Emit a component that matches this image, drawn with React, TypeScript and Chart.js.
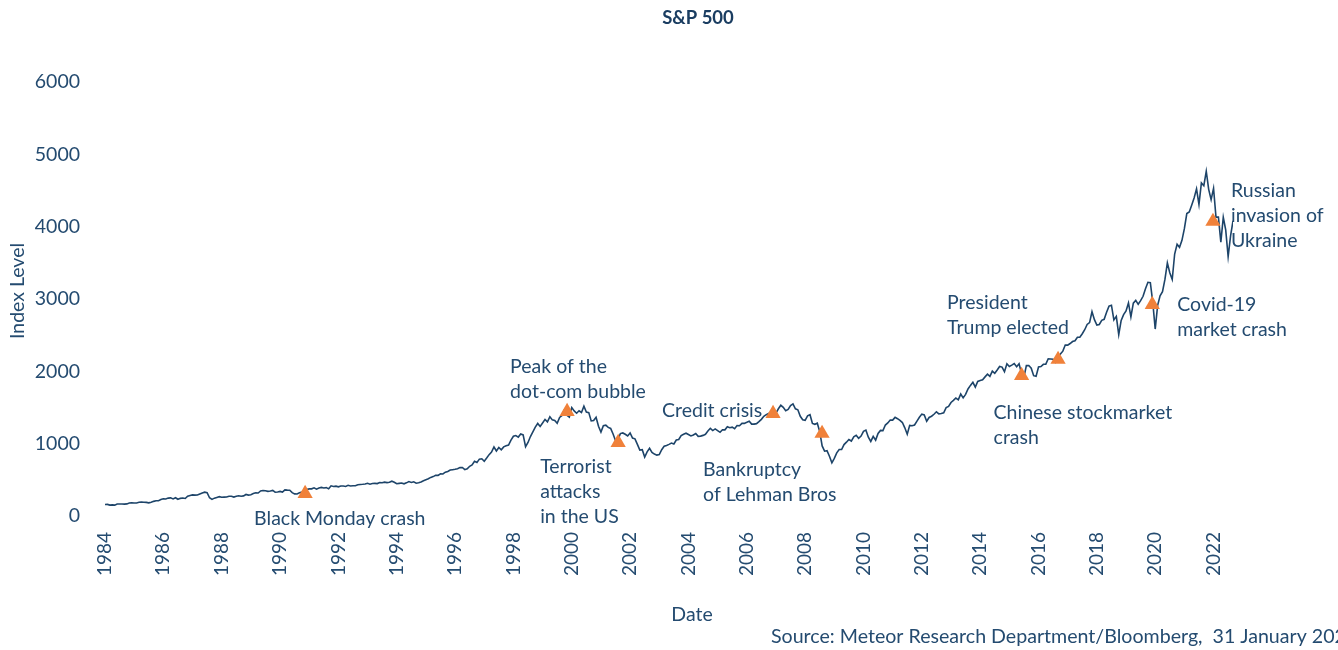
import React, { useEffect, useRef } from "react";
import { Chart, registerables } from "chart.js";

Chart.register(...registerables);

// ---------- DATA ----------
const CHART_TITLE = "S&P 500";
const Y_AXIS_TITLE = "Index Level";
const X_AXIS_TITLE = "Date";
const SOURCE_TEXT = "Source: Meteor Research Department/Bloomberg,  31 January 2023";

// first plotted point sits at the 1984 tick, one point per month
const FIRST_X = 1984;
const POINTS_PER_YEAR = 12;

const X_TICKS = [1984, 1986, 1988, 1990, 1992, 1994, 1996, 1998, 2000, 2002, 2004, 2006, 2008, 2010, 2012, 2014, 2016, 2018, 2020, 2022];
const Y_TICKS = [0, 1000, 2000, 3000, 4000, 5000, 6000];

// monthly closes (Mar 1984 .. Nov 2022)
const SP500 = [
  159.2, 160.1, 150.6, 153.2, 150.7, 166.7, 166.1, 166.1, 163.6, 167.2,
  179.6, 181.2, 180.7, 179.8, 189.6, 191.9, 190.9, 188.6, 182.1, 189.8, 202.2, 211.3,
  211.8, 226.9, 238.9, 235.5, 247.4, 250.8, 236.1, 252.9, 231.3, 244.0, 249.2, 242.2,
  274.1, 284.2, 291.7, 288.4, 290.1, 304.0, 318.7, 329.8, 321.8, 251.8, 230.3, 247.1,
  257.1, 267.8, 258.9, 261.3, 262.2, 273.5, 272.0, 261.5, 271.9, 279.0, 273.7, 277.7,
  297.5, 288.9, 294.9, 309.6, 320.5, 318.0, 346.1, 351.5, 349.2, 340.4, 346.0, 353.4,
  329.1, 331.9, 339.9, 330.8, 361.2, 358.0, 356.2, 322.6, 306.1, 304.0, 322.2, 330.2,
  343.9, 367.1, 375.2, 375.3, 389.8, 371.2, 387.8, 395.4, 387.9, 392.5, 375.2, 417.1,
  408.8, 412.7, 403.7, 415.0, 415.4, 408.1, 424.2, 414.0, 417.8, 418.7, 431.4, 435.7,
  438.8, 443.4, 451.7, 440.2, 450.2, 451.0, 448.1, 463.6, 458.9, 467.8, 461.8, 466.5,
  481.6, 467.1, 445.8, 450.9, 456.5, 444.3, 458.3, 475.5, 462.7, 472.4, 453.7, 459.3,
  470.4, 487.4, 500.7, 514.7, 533.4, 544.8, 562.1, 561.9, 584.4, 581.5, 605.4, 615.9,
  636.0, 640.4, 645.5, 654.2, 669.1, 670.6, 640.0, 652.0, 687.3, 705.3, 757.0, 740.7,
  786.2, 790.8, 757.1, 801.3, 848.3, 885.1, 954.3, 899.5, 947.3, 914.6, 955.4, 970.4,
  980.3, 1049.3, 1101.8, 1111.8, 1090.8, 1133.8, 1120.7, 957.3, 1017.0, 1098.7, 1163.6, 1229.2,
  1279.6, 1238.3, 1286.4, 1335.2, 1301.8, 1372.7, 1328.7, 1320.4, 1282.7, 1362.9, 1389.0, 1469.3,
  1394.5, 1366.4, 1498.6, 1452.4, 1420.6, 1454.6, 1430.8, 1517.7, 1436.5, 1429.4, 1315.2, 1320.3,
  1366.0, 1239.9, 1160.3, 1249.5, 1255.8, 1224.4, 1211.2, 1133.6, 1040.9, 1059.8, 1139.5, 1148.1,
  1130.2, 1106.7, 1147.4, 1076.9, 1067.1, 989.8, 911.6, 916.1, 815.3, 885.8, 936.3, 879.8,
  855.7, 841.2, 848.2, 916.9, 963.6, 974.5, 990.3, 1008.0, 996.0, 1050.7, 1058.2, 1111.9,
  1131.1, 1144.9, 1126.2, 1107.3, 1120.7, 1140.8, 1101.7, 1104.2, 1114.6, 1130.2, 1173.8, 1211.9,
  1181.3, 1203.6, 1180.6, 1156.9, 1191.5, 1191.3, 1234.2, 1220.3, 1228.8, 1207.0, 1249.5, 1248.3,
  1280.1, 1280.7, 1294.9, 1310.6, 1270.1, 1270.2, 1276.7, 1303.8, 1335.9, 1377.9, 1400.6, 1418.3,
  1438.2, 1406.8, 1420.9, 1482.4, 1530.6, 1503.4, 1455.3, 1474.0, 1526.8, 1549.4, 1481.1, 1468.4,
  1378.6, 1330.6, 1322.7, 1385.6, 1400.4, 1280.0, 1267.4, 1282.8, 1166.4, 968.8, 896.2, 903.3,
  825.9, 735.1, 797.9, 872.8, 919.1, 919.3, 987.5, 1020.6, 1057.1, 1036.2, 1095.6, 1115.1,
  1073.9, 1104.5, 1169.4, 1186.7, 1089.4, 1030.7, 1101.6, 1049.3, 1141.2, 1183.3, 1180.6, 1257.6,
  1286.1, 1327.2, 1325.8, 1363.6, 1345.2, 1320.6, 1292.3, 1218.9, 1131.4, 1253.3, 1247.0, 1257.6,
  1312.4, 1365.7, 1408.5, 1397.9, 1310.3, 1362.2, 1379.3, 1406.6, 1440.7, 1412.2, 1416.2, 1426.2,
  1498.1, 1514.7, 1569.2, 1597.6, 1630.7, 1606.3, 1685.7, 1633.0, 1681.6, 1756.5, 1805.8, 1848.4,
  1782.6, 1859.5, 1872.3, 1884.0, 1923.6, 1960.2, 1930.7, 2003.4, 1972.3, 2018.1, 2067.6, 2058.9,
  1995.0, 2104.5, 2067.9, 2085.5, 2107.4, 2063.1, 2103.8, 1972.2, 1920.0, 2079.4, 2080.4, 2043.9,
  1940.2, 1932.2, 2059.7, 2065.3, 2097.0, 2098.9, 2173.6, 2171.0, 2168.3, 2126.2, 2199.0, 2238.8,
  2278.9, 2363.6, 2362.7, 2384.2, 2411.8, 2423.4, 2470.3, 2471.7, 2519.4, 2575.3, 2647.6, 2673.6,
  2823.8, 2713.8, 2640.9, 2648.1, 2705.3, 2718.4, 2816.3, 2901.5, 2914.0, 2711.7, 2760.2, 2506.9,
  2704.1, 2784.5, 2834.4, 2945.8, 2752.1, 2941.8, 2980.4, 2926.5, 2976.7, 3037.6, 3141.0, 3230.8,
  3225.5, 2954.2, 2584.6, 2912.4, 3044.3, 3100.3, 3271.1, 3500.3, 3363.0, 3270.0, 3621.6, 3756.1,
  3714.2, 3811.2, 3972.9, 4181.2, 4204.1, 4297.5, 4395.3, 4522.7, 4307.5, 4605.4, 4567.0, 4766.2,
  4515.6, 4373.9, 4530.4, 4131.9, 4132.2, 3785.4, 4130.3, 3955.0, 3585.6, 3872.0, 4080.1,
];

// event markers
const EVENT_X = [1990.86, 1999.84, 2001.59, 2006.9, 2008.58, 2015.42, 2016.67, 2019.9, 2021.98];
const EVENT_Y = [311, 1445, 1016, 1417, 1141, 1942, 2164, 2924, 4072];
const EVENT_LABELS = [
  "Black Monday crash",
  "Peak of the\ndot-com bubble",
  "Terrorist\nattacks\nin the US",
  "Credit crisis",
  "Bankruptcy\nof Lehman Bros",
  "Chinese stockmarket\ncrash",
  "President\nTrump elected",
  "Covid-19\nmarket crash",
  "Russian\ninvasion of\nUkraine",
];

// ---------- LAYOUT / STYLE ----------
const W = 1338;
const H = 650;
const FONT = 'Lato, "Open Sans", sans-serif';
const LINE_COLOR = "#1d4469";
const TEXT_COLOR = "#244b70";
const TITLE_COLOR = "#1a3d61";
const MARKER_COLOR = "#F0813A";
const LABEL_OFFSETS = [
  [-51, 25.5],
  [-57, -44.5],
  [-78, 24.5],
  [-111, -2.5],
  [-119, 36.5],
  [-28, 37.5],
  [-111, -56.5],
  [25, 0.5],
  [18, -30.5],
];
const LINE_GAP = 25;

const textPlugin = {
  id: "textPlugin",
  afterDraw(chart: any) {
    const ctx = chart.ctx as CanvasRenderingContext2D;
    const xs = chart.scales.x;
    const ys = chart.scales.y;
    ctx.save();
    ctx.textBaseline = "middle";

    // title
    ctx.fillStyle = TITLE_COLOR;
    ctx.font = `bold 18.5px ${FONT}`;
    ctx.textAlign = "center";
    ctx.fillText(CHART_TITLE, 698, 18);

    ctx.fillStyle = TEXT_COLOR;
    // x axis title
    ctx.font = `19.5px ${FONT}`;
    ctx.fillText(X_AXIS_TITLE, 692, 615);

    // y axis title
    ctx.save();
    ctx.translate(18, 291);
    ctx.rotate(-Math.PI / 2);
    ctx.font = `19.5px ${FONT}`;
    ctx.fillText(Y_AXIS_TITLE, 0, 0);
    ctx.restore();

    // source
    ctx.textAlign = "left";
    ctx.font = `19.6px ${FONT}`;
    ctx.fillText(SOURCE_TEXT, 771, 637);

    // event labels
    ctx.font = `19.5px ${FONT}`;
    EVENT_LABELS.forEach((label, i) => {
      const px = xs.getPixelForValue(EVENT_X[i]);
      const py = ys.getPixelForValue(EVENT_Y[i]);
      const [dx, dy] = LABEL_OFFSETS[i];
      label.split("\n").forEach((line, j) => {
        ctx.fillText(line, px + dx, py + dy + j * LINE_GAP);
      });
    });
    ctx.restore();
  },
};

export default function App() {
  const ref = useRef<HTMLCanvasElement | null>(null);

  useEffect(() => {
    document.body.style.margin = "0";
    document.documentElement.style.overflow = "hidden";
    const canvas = ref.current;
    if (!canvas) return;

    const lastX = FIRST_X + (SP500.length - 1) / POINTS_PER_YEAR;

    const chart = new Chart(canvas, {
      type: "line",
      data: {
        datasets: [
          {
            label: "Events",
            data: EVENT_X.map((x, i) => ({ x, y: EVENT_Y[i] })),
            showLine: false,
            pointStyle: "triangle",
            pointRadius: 8.8,
            pointHoverRadius: 8.8,
            pointBackgroundColor: MARKER_COLOR,
            pointBorderWidth: 0,
            borderColor: MARKER_COLOR,
            backgroundColor: MARKER_COLOR,
          },
          {
            label: "S&P 500",
            data: SP500.map((v, i) => ({ x: FIRST_X + i / POINTS_PER_YEAR, y: v })),
            borderColor: LINE_COLOR,
            borderWidth: 1.6,
            pointRadius: 0,
            tension: 0,
            fill: false,
          },
        ],
      },
      options: {
        responsive: false,
        animation: false,
        devicePixelRatio: 1,
        layout: { padding: { left: 0, right: W - 1233, top: 82, bottom: 0 } },
        plugins: {
          legend: { display: false },
          tooltip: { enabled: false },
          title: { display: false },
        },
        scales: {
          x: {
            type: "linear",
            min: FIRST_X,
            max: lastX,
            grid: { display: false, drawTicks: false },
            border: { display: false },
            afterBuildTicks: (scale: any) => {
              scale.ticks = X_TICKS.map((v) => ({ value: v }));
            },
            afterFit: (scale: any) => {
              scale.height = H - 516;
            },
            ticks: {
              autoSkip: false,
              minRotation: 90,
              maxRotation: 90,
              padding: 16,
              color: TEXT_COLOR,
              font: { family: FONT, size: 19 },
              callback: (v: any) => String(v),
            },
          },
          y: {
            type: "linear",
            min: 0,
            max: 6000,
            grid: { display: false, drawTicks: false },
            border: { display: false },
            afterBuildTicks: (scale: any) => {
              scale.ticks = Y_TICKS.map((v) => ({ value: v }));
            },
            afterFit: (scale: any) => {
              scale.width = 105;
            },
            ticks: {
              padding: 25,
              color: TEXT_COLOR,
              font: { family: FONT, size: 19.5 },
              callback: (v: any) => String(v),
            },
          },
        },
      },
      plugins: [textPlugin],
    });

    return () => chart.destroy();
  }, []);

  return (
    <div style={{ width: W, height: H }}>
      <canvas ref={ref} width={W} height={H} style={{ display: "block", width: W, height: H }} />
    </div>
  );
}
